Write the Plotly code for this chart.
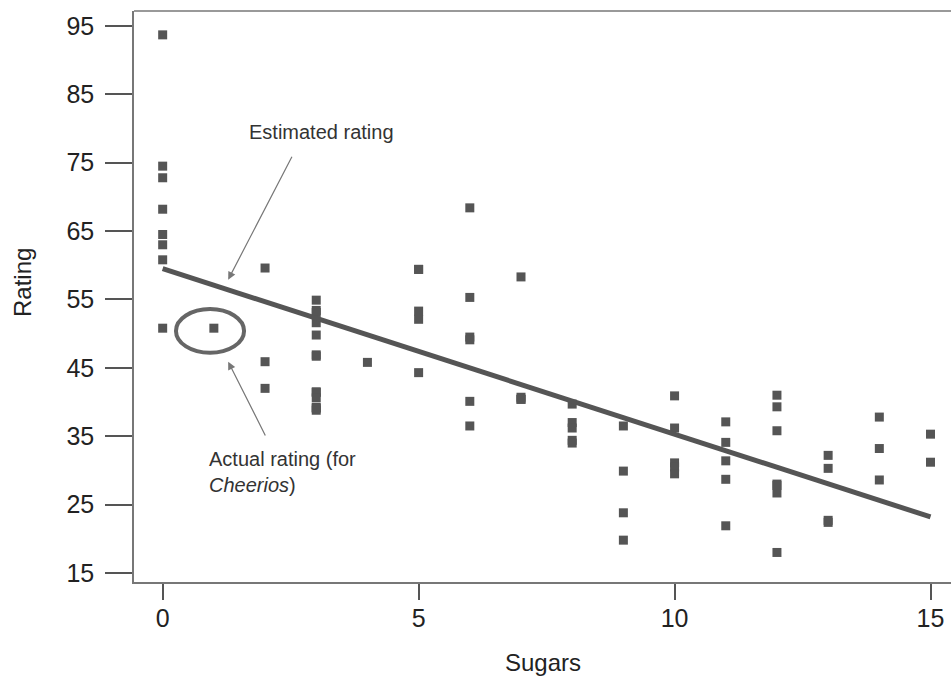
import plotly.graph_objects as go

# Data, grouped by sugars value (grams)
sugars = ([0] * 8 + [1] + [2] * 3 + [3] * 13 + [4] + [5] * 5 + [6] * 6 + [7] * 4 +
          [8] * 5 + [9] * 4 + [10] * 5 + [11] * 5 + [12] * 7 + [13] * 4 + [14] * 3 + [15] * 2)
rating = [93.7, 74.5, 72.8, 68.2, 64.5, 63.0, 60.8, 50.8,            # 0
          50.8,                                                       # 1 (Cheerios)
          59.6, 45.9, 42.0,                                           # 2
          54.9, 53.4, 53.1, 51.6, 49.8, 46.9, 46.7, 41.5, 41.4, 40.6, 39.2, 39.1, 38.8,  # 3
          45.8,                                                       # 4
          59.4, 59.4, 53.3, 52.1, 44.3,                               # 5
          68.4, 55.3, 49.5, 49.1, 40.1, 36.5,                         # 6
          58.3, 40.7, 40.4, 40.4,                                     # 7
          39.7, 37.0, 36.2, 34.4, 34.0,                               # 8
          36.5, 29.9, 23.8, 19.8,                                     # 9
          40.9, 36.2, 31.1, 30.5, 29.5,                               # 10
          37.1, 34.1, 31.4, 28.7, 21.9,                               # 11
          41.0, 39.3, 35.8, 28.0, 27.8, 26.7, 18.0,                   # 12
          32.2, 30.3, 22.7, 22.4,                                     # 13
          37.8, 33.2, 28.6,                                           # 14
          35.3, 31.2]                                                 # 15

# Estimated regression line
est_intercept = 59.5
est_slope = -2.42
line_x = [0, 15]
line_y = [est_intercept + est_slope * v for v in line_x]

x_ticks = [0, 5, 10, 15]
y_ticks = [15, 25, 35, 45, 55, 65, 75, 85, 95]

FONT = "Liberation Sans, Arial, Helvetica, sans-serif"
DARK = "#555555"

fig = go.Figure()
fig.add_trace(go.Scatter(x=sugars, y=rating, mode="markers",
                         marker=dict(symbol="square", size=9, color=DARK,
                                     line=dict(width=0))))
fig.add_trace(go.Scatter(x=line_x, y=line_y, mode="lines",
                         line=dict(color=DARK, width=5), hoverinfo="skip"))

# Ellipse around Cheerios
fig.add_shape(type="circle", xref="x", yref="y", x0=0.26, x1=1.59, y0=47.2, y1=53.6,
              line=dict(color="#666666", width=4))
# Top frame line
fig.add_shape(type="line", xref="paper", yref="paper", x0=0, x1=1, y0=1, y1=1,
              line=dict(color="#777777", width=1.5))

# Arrows
fig.add_annotation(x=1.28, y=57.9, ax=2.54, ay=76.1, axref="x", ayref="y",
                   xref="x", yref="y", text="", showarrow=True,
                   arrowhead=2, arrowsize=1.3, arrowwidth=1.2, arrowcolor="#777777")
fig.add_annotation(x=1.28, y=45.9, ax=2.02, ay=34.9, axref="x", ayref="y",
                   xref="x", yref="y", text="", showarrow=True,
                   arrowhead=2, arrowsize=1.3, arrowwidth=1.2, arrowcolor="#777777")
# Texts
fig.add_annotation(x=3.1, y=79.5, xref="x", yref="y", text="Estimated rating",
                   showarrow=False, font=dict(family=FONT, size=20, color="#333333"))
fig.add_annotation(x=0.87, y=33.5, xref="x", yref="y", xanchor="left", yanchor="top",
                   align="left", text="Actual rating (for<br><i>Cheerios</i>)",
                   showarrow=False, font=dict(family=FONT, size=20, color="#333333"))

# Axis titles (placed to match the reference)
fig.add_annotation(x=22, y=681 - 283, xref="paper", yref="paper", text="Rating",
                   textangle=-90, showarrow=False, xanchor="center", yanchor="middle",
                   font=dict(family=FONT, size=24, color="#222222"))
fig.add_annotation(x=543, y=681 - 662, xref="paper", yref="paper", text="Sugars",
                   showarrow=False, xanchor="center", yanchor="middle",
                   font=dict(family=FONT, size=24, color="#222222"))

fig.update_layout(
    width=951, height=681,
    margin=dict(l=134, r=0, t=11, b=99),
    plot_bgcolor="white", paper_bgcolor="white",
    showlegend=False,
    font=dict(family=FONT, size=25, color="#222222"),
    xaxis=dict(range=[-0.56, 15.40], tickvals=x_ticks, ticktext=[str(v) for v in x_ticks],
               showgrid=False, zeroline=False, showline=True, linecolor="#777777", linewidth=1.5,
               ticks="outside", ticklen=16, tickcolor="#555555", tickwidth=1.5,
               tickfont=dict(size=25), ticklabelstandoff=-3),
    yaxis=dict(range=[13.68, 97.19], tickvals=y_ticks, ticktext=[str(v) for v in y_ticks],
               showgrid=False, zeroline=False, showline=True, linecolor="#777777", linewidth=1.5,
               ticks="outside", ticklen=27, tickcolor="#555555", tickwidth=1.5,
               tickfont=dict(size=25), ticklabelstandoff=6),
)

# Convert pixel-based title annotations to paper fractions
pw, ph = 951 - 134, 681 - 11 - 99
for ann in fig.layout.annotations:
    if ann.xref == "paper" and ann.x > 1:
        ann.x = (ann.x - 134) / pw
        ann.y = (ann.y - 99) / ph

fig.write_html("out.html")
